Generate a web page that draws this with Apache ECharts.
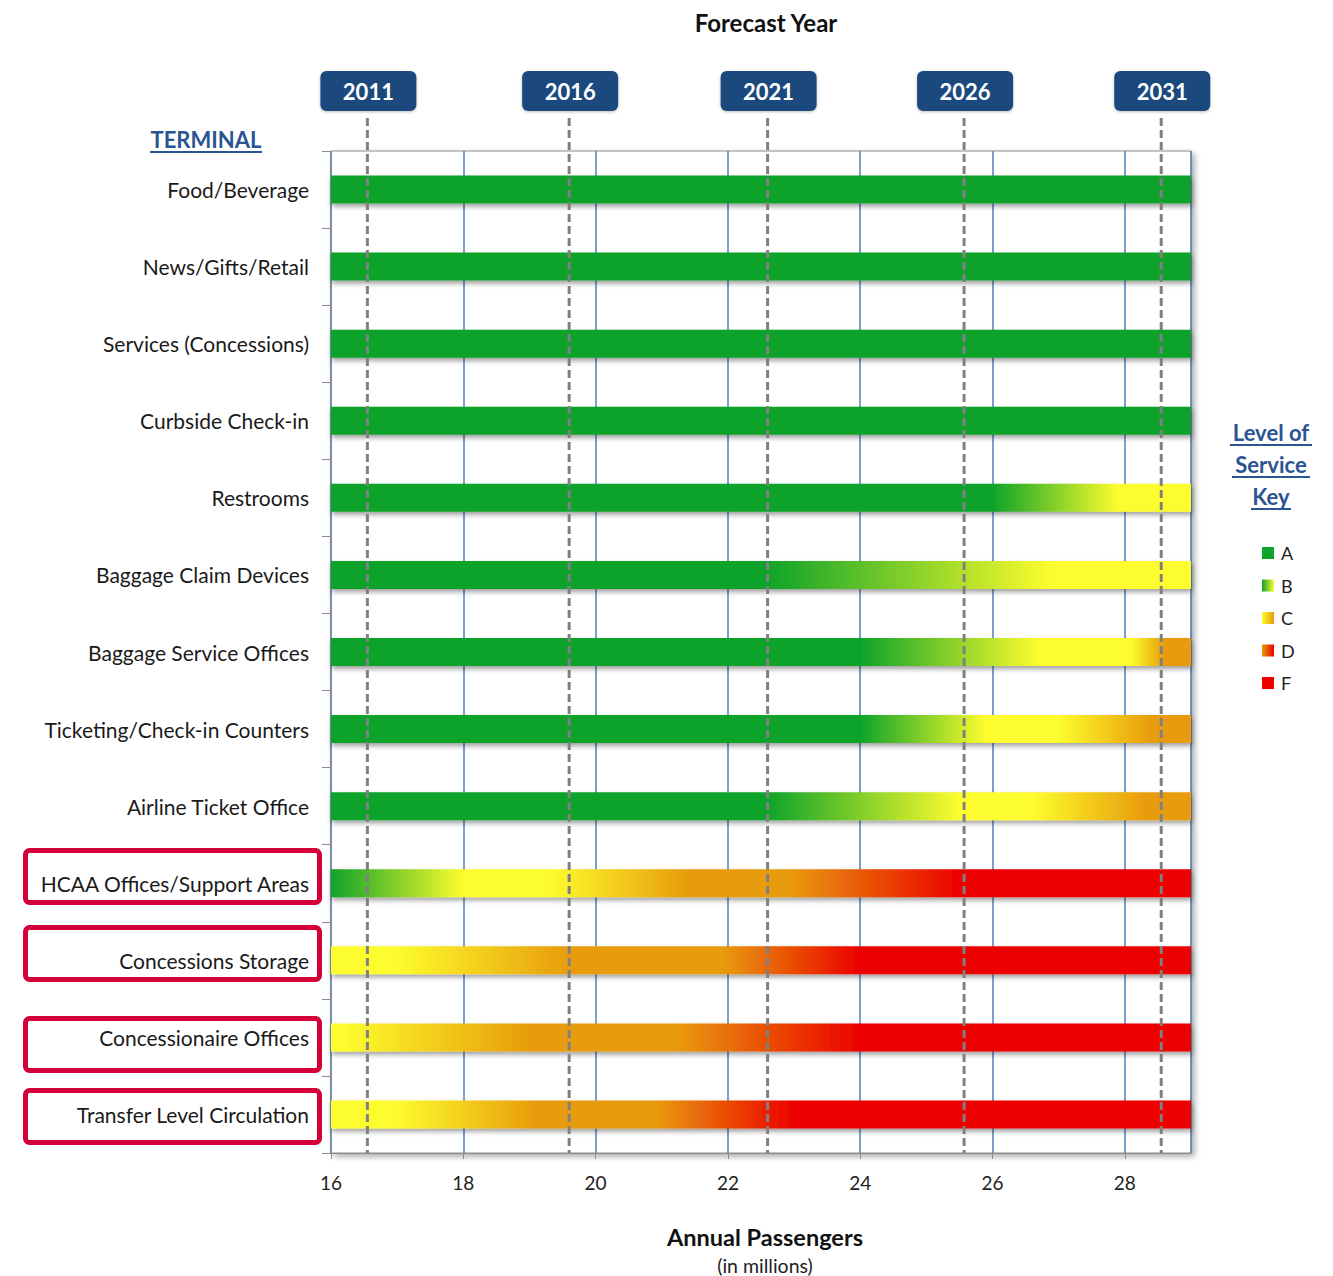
<!DOCTYPE html>
<html>
<head>
<meta charset="utf-8">
<script src="https://cdn.jsdelivr.net/npm/echarts@6/dist/echarts.min.js"></script>
<style>
html,body{margin:0;padding:0;background:#fff;}
#chart{width:1333px;height:1276px;}
</style>
</head>
<body>
<div id="chart"></div>
<script>
// ---------------- DATA ----------------
const categories = [
  'Food/Beverage', 'News/Gifts/Retail', 'Services (Concessions)', 'Curbside Check-in',
  'Restrooms', 'Baggage Claim Devices', 'Baggage Service Offices', 'Ticketing/Check-in Counters',
  'Airline Ticket Office', 'HCAA Offices/Support Areas', 'Concessions Storage',
  'Concessionaire Offices', 'Transfer Level Circulation'
];
// passenger values (millions) where the level-of-service colour anchors sit, per row
const stopPassengers = [
  [16, 29],
  [16, 29],
  [16, 29],
  [16, 29],
  [16, 26.0, 27.9, 29],
  [16, 22.6, 26.9, 29],
  [16, 24.0, 26.7, 28.1, 28.6, 29],
  [16, 24.0, 25.9, 27.0, 28.4, 29],
  [16, 22.6, 25.5, 26.6, 28.3, 29],
  [16, 18.0, 19.3, 21.4, 22.9, 25.5, 29],
  [16, 17.0, 19.6, 21.9, 24.0, 29],
  [16, 16.2, 19.0, 21.2, 24.0, 29],
  [16, 17.0, 19.1, 20.9, 23.0, 29]
];
// level-of-service colour anchor at each of those values (G=A, Y=B/C, O=C/D, R=F)
const stopLevels = [
  ['G', 'G'],
  ['G', 'G'],
  ['G', 'G'],
  ['G', 'G'],
  ['G', 'G', 'Y', 'Y'],
  ['G', 'G', 'Y', 'Y'],
  ['G', 'G', 'Y', 'Y', 'O', 'O'],
  ['G', 'G', 'Y', 'Y', 'O', 'O'],
  ['G', 'G', 'Y', 'Y', 'O', 'O'],
  ['G', 'Y', 'Y', 'O', 'O', 'R', 'R'],
  ['Y', 'Y', 'O', 'O', 'R', 'R'],
  ['Y', 'Y', 'O', 'O', 'R', 'R'],
  ['Y', 'Y', 'O', 'O', 'R', 'R']
];
const highlighted = ['HCAA Offices/Support Areas', 'Concessions Storage', 'Concessionaire Offices', 'Transfer Level Circulation'];
const forecastYears = ['2011', '2016', '2021', '2026', '2031'];
const forecastPassengers = [16.55, 19.6, 22.6, 25.57, 28.55];
const xTicks = [16, 18, 20, 22, 24, 26, 28];
const legendLevels = ['A', 'B', 'C', 'D', 'F'];

// ---------------- STYLE ----------------
const levelColor = { G: '#0fa32a', Y: '#fdfc2d', O: '#e89c0b', R: '#ec0000' };
const legendFill = [['G', 'G'], ['G', 'Y'], ['Y', 'O'], ['O', 'R'], ['R', 'R']];
const xMin = 16, xMax = 29;
const labelFont = 'Lato, "Noto Sans", sans-serif';

const chart = echarts.init(document.getElementById('chart'), null, { renderer: 'svg' });

const barData = categories.map((c, i) => [stopPassengers[i][0], stopPassengers[i][stopPassengers[i].length - 1], c]);

function renderBar(params, api) {
  const i = params.dataIndex;
  const p0 = api.coord([api.value(0), i]);
  const p1 = api.coord([api.value(1), i]);
  const h = 28;
  const vals = stopPassengers[i];
  const s0 = vals[0], s1 = vals[vals.length - 1];
  const stops = vals.map((v, k) => ({ offset: (v - s0) / (s1 - s0), color: levelColor[stopLevels[i][k]] }));
  return {
    type: 'rect',
    shape: { x: p0[0], y: p0[1] - h / 2, width: p1[0] - p0[0], height: h },
    style: {
      fill: new echarts.graphic.LinearGradient(0, 0, 1, 0, stops),
      shadowColor: 'rgba(0,0,0,0.38)', shadowBlur: 5, shadowOffsetX: 1, shadowOffsetY: 3
    }
  };
}

function renderYear(params, api) {
  const i = params.dataIndex;
  const x = api.coord([api.value(0), 0])[0];
  const cs = params.coordSys;
  return {
    type: 'group',
    children: [
      { type: 'line', shape: { x1: x, y1: cs.y - 33, x2: x, y2: cs.y + cs.height },
        style: { stroke: '#808080', lineWidth: 3, lineDash: [8, 4] } },
      { type: 'rect', shape: { x: x - 47, y: cs.y - 80, width: 96, height: 40, r: 6 },
        style: { fill: '#1f497d', shadowColor: 'rgba(0,0,0,0.25)', shadowBlur: 3, shadowOffsetY: 1 } },
      { type: 'text', style: { text: forecastYears[i], x: x + 1, y: cs.y - 60, align: 'center', verticalAlign: 'middle',
        fill: '#ffffff', font: 'bold 22px ' + labelFont } }
    ]
  };
}

// graphics: titles, legend, highlight boxes
const graphics = [];
graphics.push({ type: 'text', x: 766, y: 22, style: { text: 'Forecast Year', font: 'bold 24px ' + labelFont, fill: '#111', align: 'center', verticalAlign: 'middle' } });
graphics.push({ type: 'text', x: 206, y: 139, style: { text: 'TERMINAL', font: 'bold 22px ' + labelFont, fill: '#2a5592', align: 'center', verticalAlign: 'middle' } });
graphics.push({ type: 'line', shape: { x1: 150, y1: 152, x2: 262, y2: 152 }, style: { stroke: '#2a5592', lineWidth: 2 } });
graphics.push({ type: 'text', x: 765, y: 1237, style: { text: 'Annual Passengers', font: 'bold 23.5px ' + labelFont, fill: '#111', align: 'center', verticalAlign: 'middle' } });
graphics.push({ type: 'text', x: 765, y: 1265, style: { text: '(in millions)', font: '19.5px ' + labelFont, fill: '#222', align: 'center', verticalAlign: 'middle' } });
// legend title
const keyLines = ['Level of', 'Service', 'Key'];
const keyW = [82, 78, 40];
keyLines.forEach((t, k) => {
  const y = 432 + k * 32;
  graphics.push({ type: 'text', x: 1271, y: y, style: { text: t, font: 'bold 22px ' + labelFont, fill: '#2a5592', align: 'center', verticalAlign: 'middle' } });
  graphics.push({ type: 'line', shape: { x1: 1271 - keyW[k] / 2, y1: y + 13, x2: 1271 + keyW[k] / 2, y2: y + 13 }, style: { stroke: '#2a5592', lineWidth: 2 } });
});
legendLevels.forEach((lv, k) => {
  const y = 553 + k * 32.5;
  graphics.push({ type: 'rect', shape: { x: 1262, y: y - 6, width: 12, height: 12 },
    style: { fill: new echarts.graphic.LinearGradient(0, 0, 1, 0, [
      { offset: 0, color: levelColor[legendFill[k][0]] }, { offset: 1, color: levelColor[legendFill[k][1]] }]) } });
  graphics.push({ type: 'text', x: 1281, y: y, style: { text: lv, font: '18px ' + labelFont, fill: '#222', verticalAlign: 'middle' } });
});
// highlight boxes around selected categories
const boxTops = [848, 925, 1016, 1088];
highlighted.forEach((c, k) => {
  graphics.push({ type: 'rect', z: 10, shape: { x: 25.5, y: boxTops[k] + 2.5, width: 294, height: 52, r: 4 },
    style: { fill: 'none', stroke: '#d4003a', lineWidth: 5 } });
});

chart.setOption({
  animation: false,
  backgroundColor: '#ffffff',
  grid: {
    left: 331, right: 142, top: 151, bottom: 123,
    show: true, backgroundColor: '#ffffff', borderColor: '#8c8c8c', borderWidth: 1,
    shadowColor: 'rgba(0,0,0,0.35)', shadowBlur: 6, shadowOffsetX: 3, shadowOffsetY: 3
  },
  xAxis: {
    type: 'value', min: xMin, max: xMax, interval: 2,
    axisLine: { show: true, lineStyle: { color: '#8c8c8c', width: 1 } },
    axisTick: { show: true, length: 6, lineStyle: { color: '#8c8c8c' } },
    splitLine: { show: true, lineStyle: { color: '#4f81bd', width: 1.5 } },
    axisLabel: { showMaxLabel: false, margin: 20, fontSize: 19, color: '#222', fontFamily: labelFont,
      formatter: v => (xTicks.indexOf(v) >= 0 ? String(v) : '') }
  },
  yAxis: {
    type: 'category', data: categories, inverse: true,
    axisLine: { show: true, lineStyle: { color: '#8c8c8c', width: 1 } },
    axisTick: { show: true, length: 9, lineStyle: { color: '#8c8c8c' } },
    splitLine: { show: false },
    axisLabel: { margin: 22, fontSize: 21, color: '#1a1a1a', fontFamily: labelFont }
  },
  graphic: graphics,
  series: [
    {
      type: 'custom', name: 'Level of Service', renderItem: renderBar, data: barData,
      encode: { x: [0, 1], y: 2 }, z: 2
    },
    {
      type: 'custom', name: 'Forecast Year', renderItem: renderYear, clip: false,
      data: forecastPassengers.map((v, i) => [v, categories[0], forecastYears[i]]),
      encode: { x: 0, y: 1 }, z: 5
    }
  ]
});
</script>
</body>
</html>
